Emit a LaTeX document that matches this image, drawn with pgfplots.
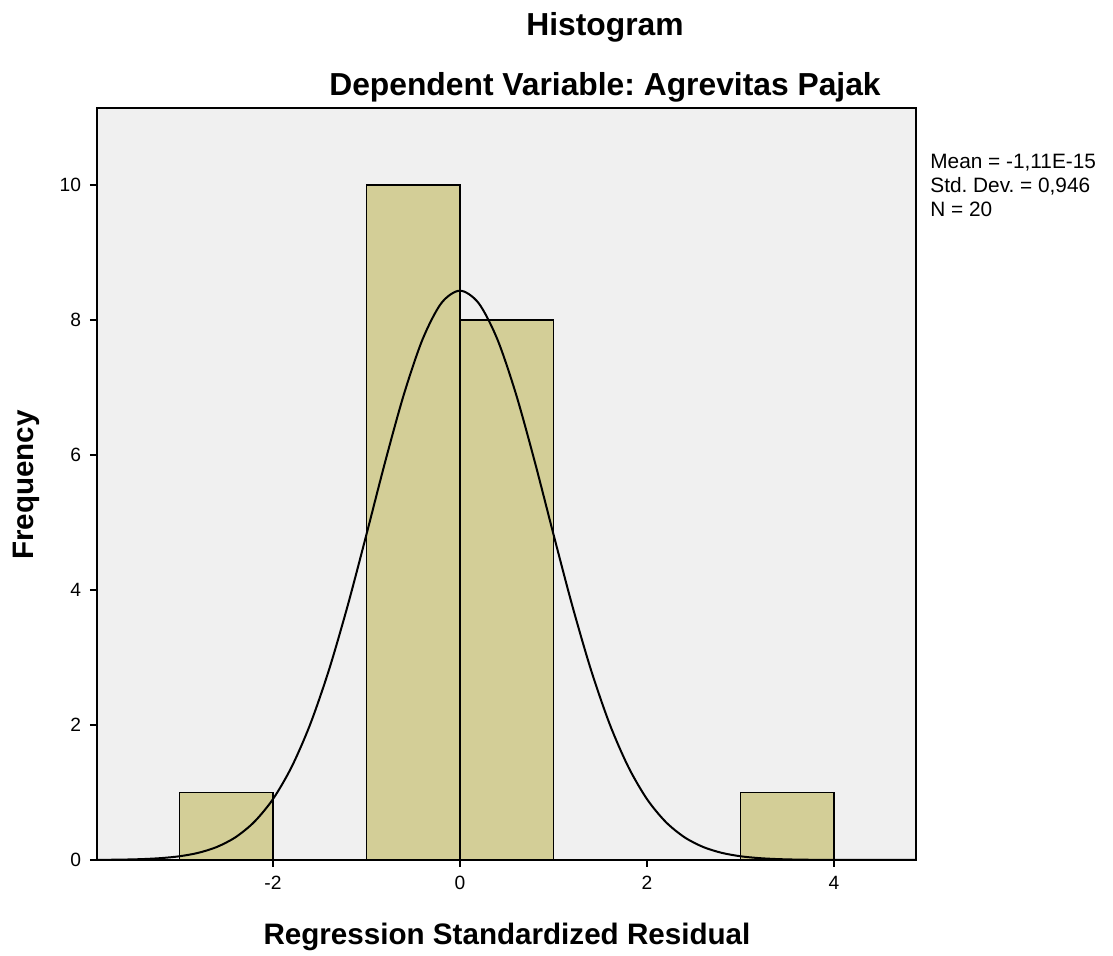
\documentclass[border=0pt]{standalone}
\usepackage{pgfplots}
\pgfplotsset{compat=1.18}
\usepackage{fontspec}
\setmainfont{Liberation Sans}
\frenchspacing
\definecolor{barfill}{HTML}{D3CE97}
\definecolor{bgfill}{HTML}{F0F0F0}
\begin{document}
\begin{tikzpicture}
\useasboundingbox (-48.5pt,-48pt) rectangle (508pt,430pt);
\begin{axis}[
  at={(0,0)}, anchor=south west,
  scale only axis,
  width=409.5pt, height=376pt,
  xmin=-3.882, xmax=4.877,
  ymin=0, ymax=11.14,
  axis background/.style={fill=bgfill},
  axis line style={black, line width=0.7pt},
  xtick={-2,0,2,4},
  ytick={0,2,4,6,8,10},
  tick align=outside,
  xtick pos=bottom, ytick pos=left,
  major tick length=3.5pt,
  tick style={black, line width=0.7pt},
  /pgf/number format/assume math mode=true,
  ticklabel style={font=\fontsize{9.6}{11}\selectfont},
  xticklabel style={yshift=-1pt},
  yticklabel style={xshift=-1pt},
  clip=true,
]
\addplot[ybar interval, fill=barfill, draw=black, line width=0.8pt]
  coordinates {(-3,1) (-2,0) (-1,10) (0,8) (1,0) (2,0) (3,1) (4,1)};
\addplot[smooth, black, line width=1pt] coordinates {
(-3.9,0.0017) (-3.8,0.0026) (-3.6,0.0060) (-3.4,0.0132) (-3.2,0.0276) (-3.0,0.0552)
(-2.8,0.1056) (-2.6,0.1931) (-2.4,0.3377) (-2.2,0.5645) (-2.0,0.902) (-1.8,1.380)
(-1.6,2.017) (-1.4,2.821) (-1.2,3.773) (-1.0,4.824) (-0.8,5.899) (-0.6,6.897)
(-0.4,7.713) (-0.2,8.248) (0,8.434) (0.2,8.248) (0.4,7.713) (0.6,6.897)
(0.8,5.899) (1.0,4.824) (1.2,3.773) (1.4,2.821) (1.6,2.017) (1.8,1.380)
(2.0,0.902) (2.2,0.5645) (2.4,0.3377) (2.6,0.1931) (2.8,0.1056) (3.0,0.0552)
(3.2,0.0276) (3.4,0.0132) (3.6,0.0060) (3.8,0.0026) (4.0,0.0011) (4.4,0.0002) (4.9,0.0)
};
\end{axis}
\node[font=\bfseries\fontsize{15.9}{18}\selectfont] at (254pt,416.5pt) {Histogram};
\node[font=\bfseries\fontsize{15.9}{18}\selectfont] at (254pt,386.5pt) {Dependent Variable: Agrevitas Pajak};
\node[font=\bfseries\fontsize{14.8}{17}\selectfont] at (205pt,-38.5pt) {Regression Standardized Residual};
\node[font=\bfseries\fontsize{14.8}{17}\selectfont, rotate=90] at (-35.5pt,187.5pt) {Frequency};
\node[font=\fontsize{10.4}{12}\selectfont, anchor=north west, align=left, inner sep=0pt] at (416.5pt,353pt)
  {Mean = -1,11E-15\\Std. Dev. = 0,946\\N = 20};
\end{tikzpicture}
\end{document}
